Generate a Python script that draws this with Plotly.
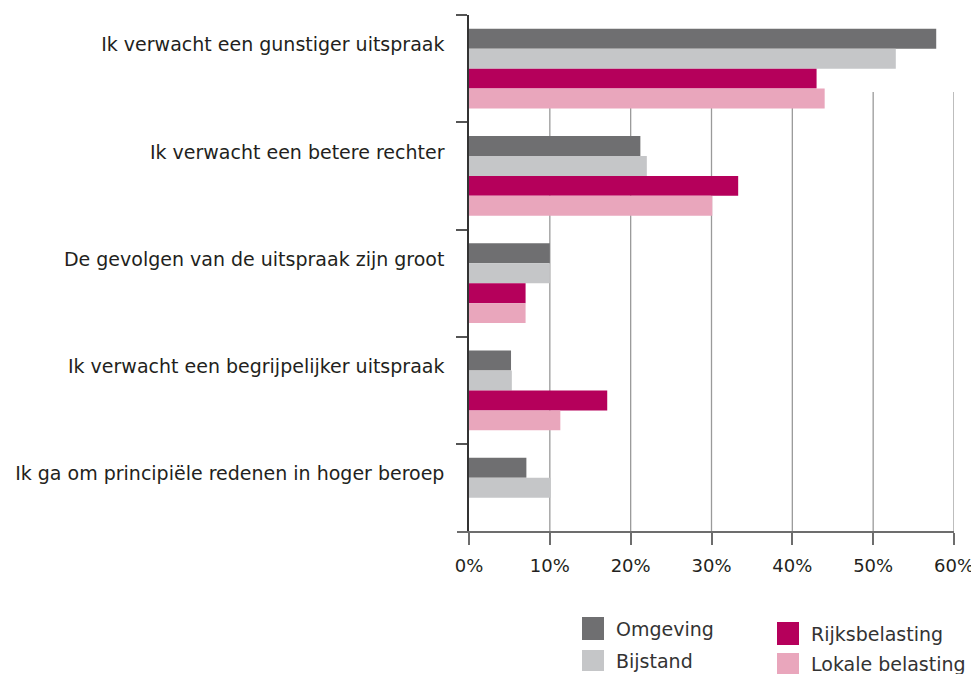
import plotly.graph_objects as go

categories = [
    "Ik verwacht een gunstiger uitspraak",
    "Ik verwacht een betere rechter",
    "De gevolgen van de uitspraak zijn groot",
    "Ik verwacht een begrijpelijker uitspraak",
    "Ik ga om principiële redenen in hoger beroep",
]
series_names = ["Omgeving", "Bijstand", "Rijksbelasting", "Lokale belasting"]
omgeving = [57.8, 21.2, 10.0, 5.2, 7.1]
bijstand = [52.8, 22.0, 10.0, 5.3, 10.1]
rijksbelasting = [43.0, 33.3, 7.0, 17.1, None]
lokale_belasting = [44.0, 30.1, 7.0, 11.3, None]
x_ticks = [0, 10, 20, 30, 40, 50, 60]
x_ticklabels = ["0%", "10%", "20%", "30%", "40%", "50%", "60%"]

colors = ["#6f6f71", "#c5c6c8", "#b5005b", "#e9a6bc"]
values = [omgeving, bijstand, rijksbelasting, lokale_belasting]

FONT = "DejaVu Sans"
TXT = "#231f20"

# the page body adds an 8px offset; work in reference pixels and subtract it
OFF = 8
W, H = 979, 674
L, R, T, B = 469 - OFF, 954 - OFF, 15 - OFF, 532 - OFF


def px_x(px):
    return (px - OFF - L) / (R - L)


def px_y(py):
    return (B - (py - OFF)) / (B - T)


fig = go.Figure()
for name, vals, col in zip(series_names, values, colors):
    fig.add_trace(go.Bar(
        y=categories, x=vals, name=name, orientation="h",
        marker=dict(color=col, line=dict(width=0)),
        showlegend=False,
    ))

shapes = []
# vertical gridlines (start below the top of the plot, as in the reference)
for t in x_ticks[1:]:
    shapes.append(dict(type="line", xref="x", yref="paper", x0=t, x1=t,
                       y0=0, y1=px_y(92), line=dict(color="#9a9a9a", width=1.3),
                       layer="below"))
# x-axis baseline extending slightly left of 0
shapes.append(dict(type="line", xref="paper", yref="paper",
                   x0=px_x(457), x1=1.0, y0=0, y1=0,
                   line=dict(color="#6d6d6d", width=2), layer="above"))

annotations = []
legend_pos = [(582, 617, 640), (582, 650, 671), (777, 622, 645), (777, 653, 674)]
for name, col, (x0, y0, y1) in zip(series_names, colors, legend_pos):
    shapes.append(dict(type="rect", xref="paper", yref="paper",
                       x0=px_x(x0), x1=px_x(x0 + 22), y0=px_y(y1), y1=px_y(y0),
                       fillcolor=col, line=dict(width=0)))
    annotations.append(dict(text=name, xref="paper", yref="paper",
                            x=px_x(x0 + 32), y=px_y((y0 + y1) / 2),
                            xanchor="left", yanchor="middle", showarrow=False,
                            font=dict(family=FONT, size=19, color="#333333")))

fig.update_layout(
    width=W, height=H,
    margin=dict(l=L, r=W - R, t=T, b=H - B, pad=0),
    paper_bgcolor="white", plot_bgcolor="white",
    barmode="group", bargap=0.255, bargroupgap=0,
    font=dict(family=FONT, size=17, color=TXT),
    shapes=shapes, annotations=annotations,
    xaxis=dict(
        range=[0, 60], tickvals=x_ticks, ticktext=x_ticklabels,
        showgrid=False, zeroline=False, showline=False,
        ticks="outside", ticklen=12, tickwidth=1.5, tickcolor="#6d6d6d",
        ticklabelstandoff=5,
        tickfont=dict(family=FONT, size=18, color=TXT),
    ),
    yaxis=dict(
        categoryorder="array", categoryarray=categories,
        range=[4.32, -0.5],
        showgrid=False, zeroline=False,
        showline=True, linecolor="#333333", linewidth=1.5,
        ticks="outside", ticklen=11, tickwidth=1.5, tickcolor="#555555",
        tickson="boundaries", ticklabelstandoff=19, ticklabelshift=24,
        tickfont=dict(family=FONT, size=19, color=TXT),
    ),
)

fig.write_html("out.html")
